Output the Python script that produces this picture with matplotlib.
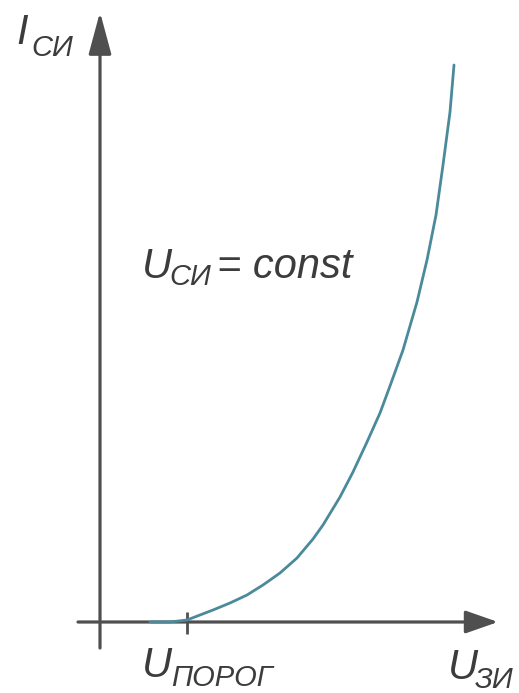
import matplotlib.pyplot as plt
from matplotlib.patches import FancyArrowPatch

# transfer characteristic (origin at axis crossing)
u_zi = [50, 70, 87, 100, 113, 130, 147, 163, 180, 197, 213, 223, 240, 253,
        267, 280, 290, 303, 317, 327, 336, 343, 350, 354]
i_si = [0, 0, 2, 7, 12, 19, 27, 37, 49, 64, 83, 97, 125, 150,
        180, 209, 236, 272, 320, 362, 407, 457, 510, 557]

u_threshold = 87

axis_color = "#4f4f4f"
curve_color = "#4a8a9b"
text_color = "#3c3c3c"

W, H = 519, 693
fig = plt.figure(figsize=(W / 100, H / 100), dpi=100)
ax = fig.add_axes([0, 0, 1, 1])
# origin of the drawing sits at pixel (100, 622)
ax.set_xlim(-100, W - 100)
ax.set_ylim(622 - H, 622)
ax.axis("off")

# axes with arrows
ax.add_patch(FancyArrowPatch((0, -26), (0, 610), arrowstyle="-|>,head_length=26,head_width=7",
                             mutation_scale=1, color=axis_color, lw=2.3, shrinkA=0, shrinkB=0))
ax.add_patch(FancyArrowPatch((-22, 0), (398, 0), arrowstyle="-|>,head_length=20,head_width=7",
                             mutation_scale=1, color=axis_color, lw=2.3, shrinkA=0, shrinkB=0))

# threshold tick
ax.plot([u_threshold, u_threshold], [-12, 10], color=axis_color, lw=2.0, solid_capstyle="butt")

ax.plot(u_zi, i_si, color=curve_color, lw=2.0, solid_capstyle="round", solid_joinstyle="round")

font = dict(family="Liberation Sans", style="italic", color=text_color)
big = 30
small = 21

# I_СИ
ax.text(-84, 578, "I", fontsize=big, **font)
ax.text(-69, 566, "СИ", fontsize=small, **font)

# U_СИ = const
ax.text(42, 344, "U", fontsize=big, **font)
ax.text(69, 337, "СИ", fontsize=small, **font)
ax.text(117, 344, "= const", fontsize=big, **font)

# U_ПОРОГ
ax.text(42, -55, "U", fontsize=big, **font)
ax.text(71, -64, "ПОРОГ", fontsize=small, **font)

# U_ЗИ
ax.text(348, -57, "U", fontsize=big, **font)
ax.text(375, -66, "ЗИ", fontsize=small, **font)

fig.savefig("out.png", dpi=100, facecolor="white")
